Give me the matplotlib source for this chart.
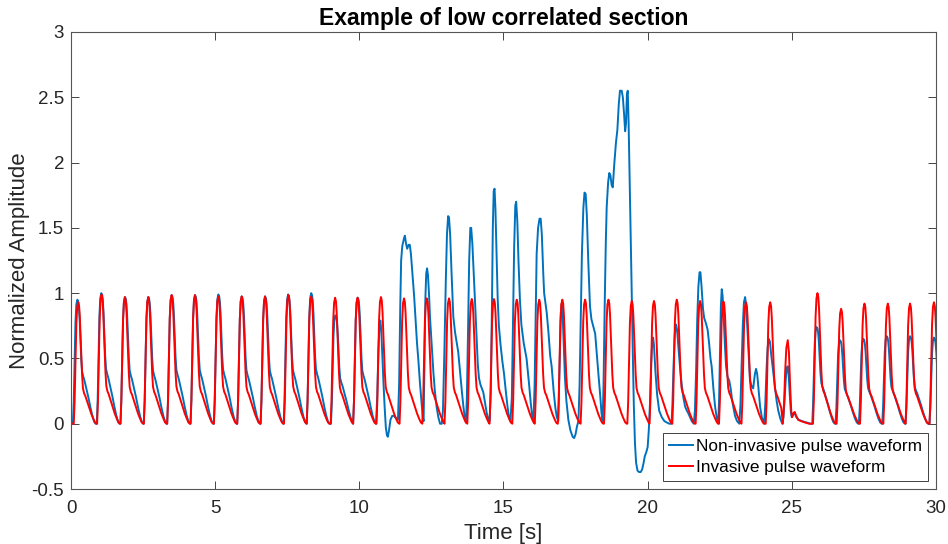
import numpy as np
import matplotlib.pyplot as plt
from matplotlib.ticker import FormatStrFormatter

plt.rcParams['font.family'] = ['Liberation Sans', 'DejaVu Sans']

# pulse shape: seconds after beat onset, normalised amplitude
shape_t = [0, 0.03, 0.06, 0.09, 0.12, 0.155, 0.185, 0.21, 0.235, 0.26,
           0.29, 0.32, 0.36, 0.40, 0.47, 0.54, 0.61, 0.68, 0.74, 0.79]
red_shape = [0, 0.18, 0.50, 0.82, 0.96, 1.0, 0.97, 0.88, 0.74, 0.58,
             0.40, 0.29, 0.25, 0.23, 0.18, 0.13, 0.08, 0.04, 0.01, 0]
blue_shape = [0, 0.18, 0.50, 0.82, 0.96, 1.0, 0.985, 0.94, 0.84, 0.70,
              0.52, 0.42, 0.38, 0.35, 0.28, 0.21, 0.13, 0.06, 0.015, 0]
rise = 0.155

# invasive (red) beats: peak time and peak value
red_peak_t = [0.25, 1.06, 1.87, 2.68, 3.49, 4.30, 5.11, 5.92, 6.73, 7.54,
              8.33, 9.16, 9.94, 10.75, 11.55, 12.34, 13.11, 13.90, 14.67,
              15.46, 16.24, 17.04, 17.83, 18.64, 19.45, 20.22, 21.01, 21.82,
              22.63, 23.41, 24.25, 25.89, 26.71, 27.52, 28.33, 29.10, 29.93]
red_peak_y = [0.93, 0.99, 0.97, 0.97, 0.985, 0.985, 0.975, 0.975, 0.975, 0.985,
              0.975, 0.965, 0.965, 0.97, 0.96, 0.96, 0.96, 0.955, 0.955,
              0.95, 0.95, 0.95, 0.95, 0.95, 0.94, 0.94, 0.95, 0.94,
              0.935, 0.93, 0.93, 1.0, 0.88, 0.92, 0.92, 0.92, 0.93]

# small irregular red beat near 25 s
red_free_t = [24.69, 24.73, 24.77, 24.81, 24.86, 24.90, 24.94, 24.98, 25.01,
              25.06, 25.10, 25.15, 25.22, 25.32, 25.45, 25.60, 25.73]
red_free_y = [0.0, 0.15, 0.40, 0.58, 0.64, 0.55, 0.30, 0.10, 0.05,
              0.08, 0.09, 0.06, 0.03, 0.02, 0.01, 0.0, 0.0]

# non-invasive (blue) regular beats
blue_peak_t = [0.22, 1.05, 1.87, 2.68, 3.49, 4.30, 5.11, 5.92, 6.73, 7.53,
               8.33, 9.17, 9.94, 25.86, 26.67, 27.48, 28.29, 29.10, 29.93]
blue_peak_y = [0.95, 1.0, 0.97, 0.97, 0.985, 0.985, 0.99, 0.975, 0.975, 0.99,
               1.0, 0.83, 0.965, 0.74, 0.64, 0.65, 0.67, 0.67, 0.66]

# blue section read point by point (10.6 s - 25.7 s)
blue_free = [
    (10.58, 0.0), (10.62, 0.2), (10.66, 0.55), (10.70, 0.76), (10.73, 0.79),
    (10.76, 0.72), (10.80, 0.50), (10.84, 0.30), (10.88, 0.12), (10.92, -0.03),
    (10.96, -0.09), (10.99, -0.10), (11.03, -0.05), (11.08, 0.03), (11.14, 0.06),
    (11.20, 0.06), (11.28, 0.04), (11.34, 0.03),
    (11.38, 0.3), (11.42, 0.9), (11.45, 1.25), (11.49, 1.36), (11.55, 1.42),
    (11.58, 1.44), (11.62, 1.38), (11.66, 1.34), (11.71, 1.37), (11.75, 1.37),
    (11.79, 1.30), (11.84, 1.15), (11.90, 0.98), (11.95, 0.80), (12.00, 0.62),
    (12.05, 0.48), (12.10, 0.32), (12.16, 0.16), (12.20, 0.05), (12.23, 0.02),
    (12.26, 0.5), (12.29, 0.95), (12.32, 1.15), (12.35, 1.19), (12.38, 1.14),
    (12.42, 0.98), (12.45, 0.82), (12.51, 0.60), (12.57, 0.39), (12.62, 0.25),
    (12.68, 0.13), (12.74, 0.05), (12.80, 0.0), (12.86, 0.0),
    (12.90, 0.1), (12.95, 0.55), (13.0, 1.1), (13.04, 1.45), (13.08, 1.59),
    (13.11, 1.58), (13.15, 1.45), (13.20, 1.15), (13.26, 0.82), (13.32, 0.70),
    (13.38, 0.62), (13.43, 0.55), (13.50, 0.38), (13.56, 0.24), (13.61, 0.13),
    (13.66, 0.04), (13.70, 0.01),
    (13.73, 0.2), (13.77, 0.7), (13.81, 1.25), (13.85, 1.50), (13.88, 1.50),
    (13.92, 1.38), (13.97, 1.15), (14.01, 0.95), (14.06, 0.70), (14.11, 0.45),
    (14.15, 0.35), (14.20, 0.30), (14.25, 0.27), (14.30, 0.24), (14.36, 0.16),
    (14.42, 0.08), (14.48, 0.03), (14.52, 0.02),
    (14.56, 0.25), (14.60, 0.9), (14.63, 1.5), (14.66, 1.78), (14.69, 1.80),
    (14.72, 1.65), (14.76, 1.30), (14.80, 0.95), (14.84, 0.75), (14.90, 0.60),
    (14.96, 0.48), (15.02, 0.38), (15.08, 0.25), (15.14, 0.13), (15.19, 0.05),
    (15.24, 0.02),
    (15.29, 0.2), (15.33, 0.8), (15.37, 1.35), (15.41, 1.67), (15.44, 1.70),
    (15.48, 1.55), (15.52, 1.25), (15.57, 0.95), (15.62, 0.76), (15.70, 0.62),
    (15.80, 0.50), (15.88, 0.32), (15.95, 0.15), (16.00, 0.05), (16.04, 0.02),
    (16.08, 0.3), (16.12, 0.9), (16.15, 1.3), (16.20, 1.50), (16.25, 1.57),
    (16.29, 1.57), (16.33, 1.45), (16.38, 1.15), (16.41, 1.0), (16.46, 0.92),
    (16.50, 0.85), (16.56, 0.70), (16.62, 0.52), (16.67, 0.44), (16.74, 0.25),
    (16.80, 0.12), (16.85, 0.05), (16.90, 0.02),
    (16.93, 0.3), (16.96, 0.6), (16.99, 0.85), (17.02, 0.92), (17.05, 0.85),
    (17.09, 0.6), (17.13, 0.36), (17.18, 0.18), (17.25, 0.03), (17.32, -0.05),
    (17.40, -0.10), (17.45, -0.11), (17.50, -0.08), (17.55, -0.02), (17.60, 0.02),
    (17.64, 0.3), (17.68, 0.8), (17.72, 1.3), (17.77, 1.65), (17.81, 1.77),
    (17.85, 1.76), (17.89, 1.6), (17.94, 1.25), (18.0, 0.90), (18.05, 0.80),
    (18.12, 0.74), (18.18, 0.69), (18.24, 0.52), (18.30, 0.36), (18.35, 0.23),
    (18.40, 0.08), (18.44, 0.02),
    (18.47, 0.3), (18.51, 0.9), (18.55, 1.4), (18.58, 1.66), (18.63, 1.85),
    (18.67, 1.92), (18.71, 1.90), (18.75, 1.83), (18.79, 1.81), (18.84, 1.98),
    (18.90, 2.15), (18.95, 2.25), (19.00, 2.45), (19.04, 2.55), (19.10, 2.55),
    (19.14, 2.50), (19.18, 2.38), (19.22, 2.24), (19.25, 2.30), (19.28, 2.52),
    (19.31, 2.55), (19.34, 2.30), (19.37, 1.95), (19.40, 1.6), (19.44, 1.1),
    (19.48, 0.6), (19.52, 0.15), (19.56, -0.15), (19.60, -0.30), (19.65, -0.36),
    (19.70, -0.37), (19.76, -0.37), (19.81, -0.35), (19.86, -0.30), (19.90, -0.25),
    (19.95, -0.22), (20.00, -0.18), (20.04, -0.05), (20.08, 0.15), (20.12, 0.45),
    (20.16, 0.63), (20.19, 0.66), (20.22, 0.60), (20.27, 0.40), (20.33, 0.22),
    (20.40, 0.10), (20.49, 0.05), (20.58, 0.02), (20.66, 0.01), (20.75, 0.0),
    (20.83, 0.0),
    (20.86, 0.15), (20.90, 0.45), (20.94, 0.68), (20.98, 0.76), (21.02, 0.72),
    (21.07, 0.58), (21.12, 0.44), (21.18, 0.30), (21.24, 0.20), (21.30, 0.13),
    (21.36, 0.10), (21.41, 0.08), (21.47, 0.05), (21.53, 0.02), (21.60, 0.0),
    (21.64, 0.1), (21.68, 0.4), (21.72, 0.8), (21.76, 1.05), (21.80, 1.16),
    (21.83, 1.16), (21.87, 1.05), (21.92, 0.88), (21.96, 0.81), (22.02, 0.77),
    (22.08, 0.72), (22.13, 0.62), (22.18, 0.50), (22.22, 0.44), (22.28, 0.27),
    (22.34, 0.13), (22.40, 0.04), (22.45, 0.0),
    (22.48, 0.2), (22.51, 0.55), (22.54, 0.90), (22.57, 1.03), (22.60, 0.98),
    (22.64, 0.80), (22.68, 0.60), (22.72, 0.44), (22.77, 0.36), (22.83, 0.33),
    (22.88, 0.27), (22.93, 0.18), (22.97, 0.13), (23.03, 0.06), (23.10, 0.02),
    (23.18, 0.0),
    (23.22, 0.15), (23.26, 0.45), (23.30, 0.75), (23.34, 0.93), (23.38, 0.97),
    (23.42, 0.90), (23.46, 0.72), (23.51, 0.48), (23.55, 0.33), (23.60, 0.29),
    (23.66, 0.27), (23.72, 0.38), (23.76, 0.42), (23.80, 0.38), (23.85, 0.25),
    (23.90, 0.13), (23.96, 0.05), (24.04, 0.0),
    (24.08, 0.15), (24.12, 0.40), (24.16, 0.58), (24.20, 0.65), (24.24, 0.63),
    (24.29, 0.52), (24.36, 0.39), (24.42, 0.28), (24.47, 0.18), (24.53, 0.10),
    (24.60, 0.04), (24.67, 0.0),
    (24.71, 0.05), (24.75, 0.18), (24.79, 0.34), (24.83, 0.43), (24.86, 0.44),
    (24.89, 0.38), (24.93, 0.22), (24.97, 0.08), (25.00, 0.05), (25.05, 0.07),
    (25.10, 0.08), (25.16, 0.05), (25.24, 0.03), (25.35, 0.02), (25.50, 0.01),
    (25.65, 0.0), (25.71, 0.0),
]
blue_free_t = [p[0] for p in blue_free]
blue_free_y = [p[1] for p in blue_free]


def pulse_train(peak_t, peak_y, shape_y, free_t, free_y):
    pts = [(0.0, 0.0)]
    for i in range(len(peak_t)):
        on = peak_t[i] - rise
        nxt = peak_t[i + 1] - rise if i + 1 < len(peak_t) else np.inf
        for st, sy in zip(shape_t, shape_y):
            tt = on + st
            if tt < nxt and not (free_t[0] <= tt <= free_t[-1]):
                pts.append((tt, peak_y[i] * sy))
    pts += list(zip(free_t, free_y))
    pts.sort()
    return np.array([p[0] for p in pts]), np.array([p[1] for p in pts])


bt, by = pulse_train(blue_peak_t, blue_peak_y, blue_shape, blue_free_t, blue_free_y)
rt, ry = pulse_train(red_peak_t, red_peak_y, red_shape, red_free_t, red_free_y)

fig = plt.figure(figsize=(9.48, 5.44), dpi=100)
ax = fig.add_axes([0.0749, 0.1011, 0.9124, 0.8401])
ax.plot(bt, by, color='#0072BD', lw=1.4, label='Non-invasive pulse waveform')
ax.plot(rt, ry, color='#FF0000', lw=1.4, label='Invasive pulse waveform')

ax.set_xlim(0, 30)
ax.set_ylim(-0.5, 3)
ax.set_xticks(np.arange(0, 31, 5))
ax.set_yticks(np.arange(-0.5, 3.01, 0.5))
ax.yaxis.set_major_formatter(FormatStrFormatter('%g'))
ax.tick_params(direction='in', length=6, width=0.6, top=True, right=True,
               labelsize=13.5, colors='#262626')
ax.tick_params(axis='x', pad=8)
ax.tick_params(axis='y', pad=5)
for s in ax.spines.values():
    s.set_color('#555555')
    s.set_linewidth(0.8)

ax.set_title('Example of low correlated section', fontsize=16.5,
             fontweight='bold', color='black', pad=5)
ax.set_xlabel('Time [s]', fontsize=16, color='#262626', labelpad=4)
ax.set_ylabel('Normalized Amplitude', fontsize=16, color='#262626', labelpad=1)

leg = ax.legend(loc='lower right', fontsize=12.4, fancybox=False,
                edgecolor='#404040', framealpha=1, handlelength=1.4,
                handletextpad=0.2, borderpad=0.35, labelspacing=0.35,
                borderaxespad=0.45)
leg.get_frame().set_linewidth(0.7)

plt.savefig('out.png', dpi=100)
